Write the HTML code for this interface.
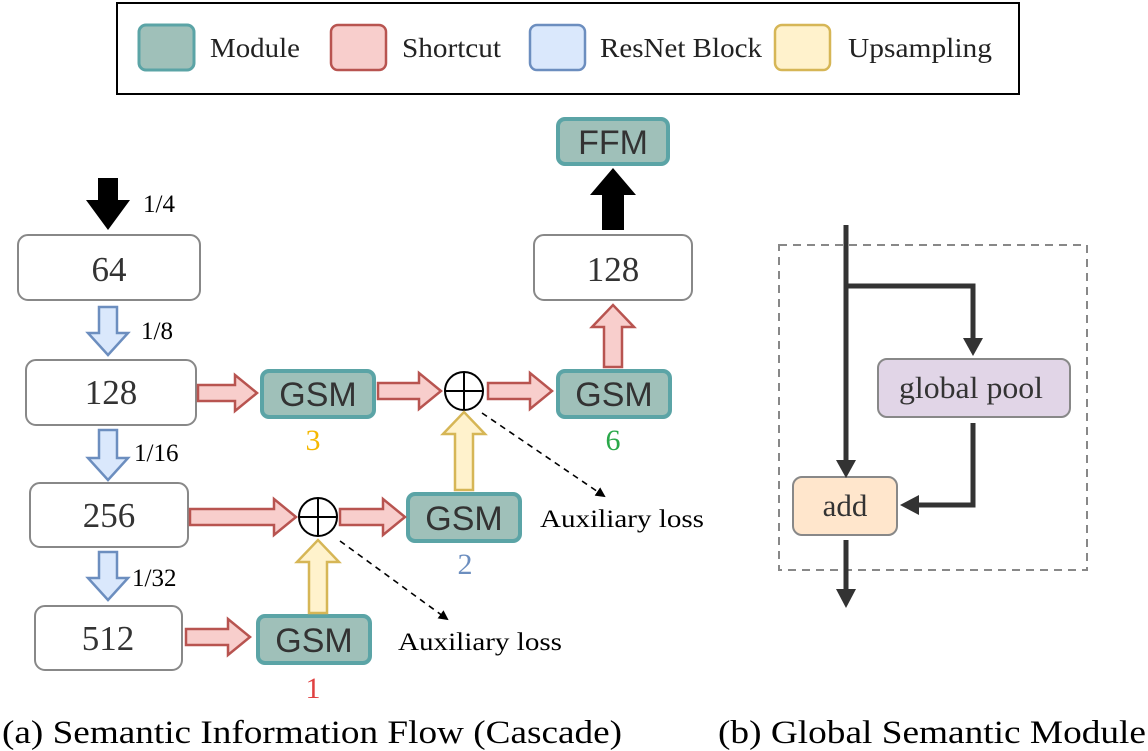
<!DOCTYPE html>
<html><head><style>body{margin:0;background:#fff}svg{display:block}</style></head><body>
<svg width="1148" height="751" viewBox="0 0 1148 751" xmlns="http://www.w3.org/2000/svg" font-family="'Liberation Serif',serif">
<defs>
<marker id="ah" markerWidth="10" markerHeight="10" refX="8" refY="5" orient="auto" markerUnits="userSpaceOnUse"><path d="M0,0 L10,5 L0,10 z" fill="#000"/></marker>
</defs>
<!-- legend -->
<rect x="117" y="3" width="902" height="91" fill="#fff" stroke="#000" stroke-width="2"/>
<rect x="139" y="25" width="55" height="45" rx="7" fill="#9fc0b9" stroke="#5ba4a6" stroke-width="3"/>
<text x="210" y="57" font-size="27" fill="#222" textLength="90" lengthAdjust="spacingAndGlyphs">Module</text>
<rect x="331" y="25" width="55" height="45" rx="7" fill="#f8cecc" stroke="#b85450" stroke-width="2.5"/>
<text x="402" y="57" font-size="27" fill="#222" textLength="99" lengthAdjust="spacingAndGlyphs">Shortcut</text>
<rect x="530" y="25" width="55" height="45" rx="7" fill="#dae8fc" stroke="#6c8ebf" stroke-width="2.5"/>
<text x="600" y="57" font-size="27" fill="#222" textLength="162" lengthAdjust="spacingAndGlyphs">ResNet Block</text>
<rect x="775" y="25" width="55" height="45" rx="7" fill="#fff2cc" stroke="#d6b656" stroke-width="2.5"/>
<text x="848" y="57" font-size="27" fill="#222" textLength="144" lengthAdjust="spacingAndGlyphs">Upsampling</text>

<!-- boxes -->
<g fill="#fff" stroke="#888" stroke-width="2">
<rect x="18" y="235" width="182" height="65" rx="10"/>
<rect x="26" y="360" width="170" height="65" rx="10"/>
<rect x="30" y="483" width="158" height="64" rx="10"/>
<rect x="35" y="606" width="147" height="64" rx="10"/>
<rect x="534" y="235" width="158" height="65" rx="10"/>
</g>
<g font-size="35" fill="#333" text-anchor="middle">
<text x="109" y="281">64</text>
<text x="111" y="404">128</text>
<text x="109" y="527">256</text>
<text x="108" y="650">512</text>
<text x="613" y="281">128</text>
</g>
<g fill="#9fc0b9" stroke="#5ba4a6" stroke-width="4">
<rect x="558" y="119" width="110" height="45" rx="7"/>
<rect x="262" y="371" width="112" height="46" rx="7"/>
<rect x="558" y="371" width="112" height="46" rx="7"/>
<rect x="408" y="494" width="112" height="47" rx="7"/>
<rect x="258" y="616" width="112" height="47" rx="7"/>
</g>
<g font-family="'Liberation Sans',sans-serif" font-size="34" fill="#333" text-anchor="middle">
<text x="613" y="154">FFM</text>
<text x="318" y="406">GSM</text>
<text x="614" y="406">GSM</text>
<text x="464" y="530">GSM</text>
<text x="314" y="652">GSM</text>
</g>
<g font-size="30" text-anchor="middle">
<text x="313" y="450" fill="#f5b800">3</text>
<text x="613" y="450" fill="#2aa84a">6</text>
<text x="465" y="574" fill="#6c8ebf">2</text>
<text x="313" y="698" fill="#e04040">1</text>
</g>
<!-- oplus -->
<g fill="#fff" stroke="#000" stroke-width="2">
<circle cx="464" cy="391" r="19"/><path d="M445,391H483M464,372V410"/>
<circle cx="318" cy="517" r="19"/><path d="M299,517H337M318,498V536"/>
</g>
<!-- red arrows -->
<g fill="#f8cecc" stroke="#b85450" stroke-width="2.5">
<polygon points="198,385 235,385 235,375 257,393 235,411 235,401 198,401"/>
<polygon points="378,383 419,383 419,373 441,391 419,409 419,399 378,399"/>
<polygon points="488,383 530,383 530,373 552,391 530,409 530,399 488,399"/>
<polygon points="190,509 274,509 274,499 296,517 274,535 274,525 190,525"/>
<polygon points="340,509 383,509 383,499 405,517 383,535 383,525 340,525"/>
<polygon points="186,629 228,629 228,619 250,637 228,655 228,645 186,645"/>
<polygon points="604,367 622,367 622,327 634,327 613,305 592,327 604,327"/>
</g>
<g fill="#dae8fc" stroke="#6c8ebf" stroke-width="2.5">
<polygon points="99,307 117,307 117,333 128,333 108,355 88,333 99,333"/>
<polygon points="99,430 117,430 117,458 128,458 108,480 88,458 99,458"/>
<polygon points="99,552 117,552 117,578 128,578 108,600 88,578 99,578"/>
</g>
<g fill="#fff2cc" stroke="#d6b656" stroke-width="2.5">
<polygon points="455,490 473,490 473,434 485,434 464,412 443,434 455,434"/>
<polygon points="309,613 327,613 327,562 339,562 318,540 297,562 309,562"/>
</g>
<polygon points="98,178 118,178 118,200 130,200 108,230 86,200 98,200" fill="#000"/>
<polygon points="602,230 624,230 624,195 636,195 613,168 590,195 602,195" fill="#000"/>
<g font-size="25" fill="#000">
<text x="143" y="212">1/4</text>
<text x="141" y="339">1/8</text>
<text x="134" y="461">1/16</text>
<text x="132" y="586">1/32</text>
<text x="540" y="527" textLength="164" lengthAdjust="spacingAndGlyphs">Auxiliary loss</text>
<text x="398" y="650" textLength="164" lengthAdjust="spacingAndGlyphs">Auxiliary loss</text>
</g>
<g stroke="#000" stroke-width="1.6" stroke-dasharray="6,5" fill="none">
<line x1="482" y1="413" x2="604" y2="496" marker-end="url(#ah)"/>
<line x1="340" y1="541" x2="447" y2="619" marker-end="url(#ah)"/>
</g>
<!-- right -->
<rect x="779" y="245" width="308" height="325" fill="none" stroke="#888" stroke-width="2" stroke-dasharray="8,6"/>
<rect x="878" y="359" width="192" height="58" rx="9" fill="#e1d5e7" stroke="#888" stroke-width="2"/>
<text x="971" y="398" font-size="31" fill="#333" text-anchor="middle" textLength="144" lengthAdjust="spacingAndGlyphs">global pool</text>
<rect x="793" y="477" width="104" height="58" rx="9" fill="#ffe6cc" stroke="#888" stroke-width="2"/>
<text x="845" y="516" font-size="31" fill="#333" text-anchor="middle">add</text>
<g stroke="#333" stroke-width="5" fill="none">
<path d="M846,225V462"/>
<path d="M846,286H973V338"/>
<path d="M973,423V505H918"/>
<path d="M846,540V590"/>
</g>
<g fill="#333">
<polygon points="836,460 856,460 846,478"/>
<polygon points="963,338 983,338 973,356"/>
<polygon points="919,495 919,515 900,505"/>
<polygon points="836,589 856,589 846,608"/>
</g>
<g font-size="33" fill="#000">
<text x="2" y="743" textLength="620" lengthAdjust="spacingAndGlyphs">(a) Semantic Information Flow (Cascade)</text>
<text x="718" y="743" textLength="428" lengthAdjust="spacingAndGlyphs">(b) Global Semantic Module</text>
</g>
</svg>
</body></html>
